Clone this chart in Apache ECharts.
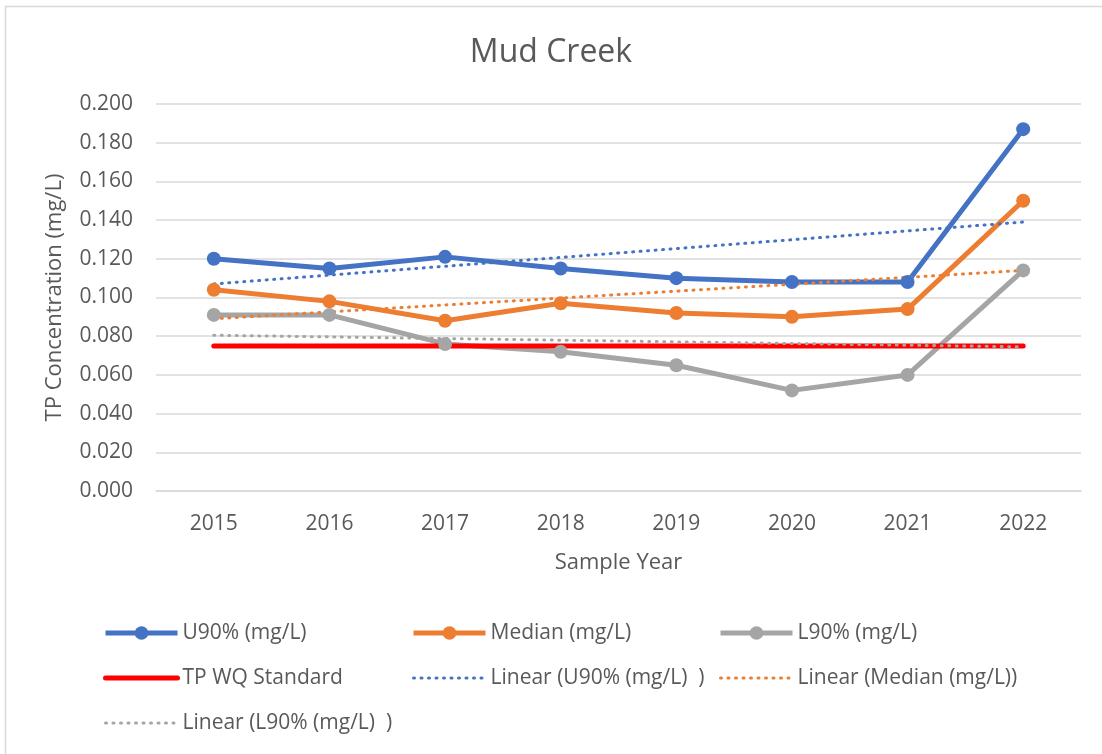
<!DOCTYPE html>
<html>
<head>
<meta charset="utf-8">
<script src="https://cdn.jsdelivr.net/npm/echarts@6/dist/echarts.min.js"></script>
<style>
html,body{margin:0;padding:0;background:#fff;}
#chart{width:1102px;height:754px;}
</style>
</head>
<body>
<div id="chart"></div>
<script>
const years = ['2015','2016','2017','2018','2019','2020','2021','2022'];
const u90 = [0.120, 0.115, 0.121, 0.115, 0.110, 0.108, 0.108, 0.187];
const median = [0.104, 0.098, 0.088, 0.097, 0.092, 0.090, 0.094, 0.150];
const l90 = [0.091, 0.091, 0.076, 0.072, 0.065, 0.052, 0.060, 0.114];
const wqStandard = 0.075;
// trendline endpoint values (first year, last year)
const trendU90 = [0.107, 0.139];
const trendMedian = [0.089, 0.114];
const trendL90 = [0.0805, 0.0745];
const yTicks = [0, 0.2, 0.02];

const names = {
  u90: 'U90% (mg/L)', med: 'Median (mg/L)', l90: 'L90% (mg/L)',
  wq: 'TP WQ Standard',
  tu: 'Linear (U90% (mg/L)  )', tm: 'Linear (Median (mg/L))', tl: 'Linear (L90% (mg/L)  )'
};
const C = {blue:'#4472C4', orange:'#ED7D31', gray:'#A5A5A5', red:'#FF0000'};
const FONT = '"Open Sans", sans-serif';
const first = years[0], last = years[years.length-1];

function mainSeries(name, data, color){
  return {name, type:'line', data, symbol:'circle', symbolSize:14,
    itemStyle:{color}, lineStyle:{color, width:5}, emphasis:{disabled:true}, animation:false};
}
function trendSeries(name, ends, color){
  return {name, type:'line', data:[[first, ends[0]],[last, ends[1]]], symbol:'none',
    itemStyle:{color}, lineStyle:{color, width:3, type:[1,6.5], cap:'round'}, emphasis:{disabled:true}, animation:false};
}
const legendText = {fontFamily:FONT, fontSize:21, color:'#595959', lineHeight:24};
const noMark = n => ({name:n, itemStyle:{opacity:0}});
function legend(data, left){
  return {data, left, top:621, padding:0, orient:'vertical', itemWidth:72, itemHeight:17, itemGap:21,
    textStyle:legendText, selectedMode:false, lineStyle:{width:'inherit'}};
}

const chart = echarts.init(document.getElementById('chart'), null, {renderer:'canvas'});
chart.setOption({
  backgroundColor:'#fff',
  animation:false,
  title:{text:'Mud Creek', left:'center', top:32,
    textStyle:{fontFamily:FONT, fontSize:32, fontWeight:'normal', color:'#595959'}},
  graphic:[{type:'rect', shape:{x:5.5, y:6.5, width:1100, height:760},
    style:{fill:'none', stroke:'#D9D9D9', lineWidth:1.5}, silent:true}],
  grid:{left:156, right:21, top:104, bottom:263, containLabel:false},
  legend:[
    legend([names.u90, noMark(names.wq), noMark(names.tl)], 103),
    legend([names.med, noMark(names.tu)], 411),
    legend([names.l90, noMark(names.tm)], 718)
  ],
  xAxis:{type:'category', data:years, boundaryGap:true,
    name:'Sample Year', nameLocation:'middle', nameGap:61,
    nameTextStyle:{fontFamily:FONT, fontSize:22, color:'#595959'},
    axisLine:{show:true, lineStyle:{color:'#D9D9D9', width:1.5}},
    axisTick:{show:false},
    axisLabel:{fontFamily:FONT, fontSize:21, color:'#595959', margin:23}},
  yAxis:{type:'value', min:yTicks[0], max:yTicks[1], interval:yTicks[2],
    name:'TP Concentration (mg/L)', nameLocation:'middle', nameGap:90,
    nameTextStyle:{fontFamily:FONT, fontSize:22, color:'#595959'},
    axisLine:{show:false}, axisTick:{show:false},
    splitLine:{lineStyle:{color:'#D9D9D9', width:1.5}},
    axisLabel:{fontFamily:FONT, fontSize:21, color:'#595959', margin:23,
      formatter:v=>v.toFixed(3)}},
  series:[
    mainSeries(names.u90, u90, C.blue),
    mainSeries(names.med, median, C.orange),
    mainSeries(names.l90, l90, C.gray),
    {name:names.wq, type:'line', data:years.map(()=>wqStandard), symbol:'none',
      itemStyle:{color:C.red}, lineStyle:{color:C.red, width:5, cap:'round'}, emphasis:{disabled:true}},
    trendSeries(names.tu, trendU90, C.blue),
    trendSeries(names.tm, trendMedian, C.orange),
    trendSeries(names.tl, trendL90, C.gray)
  ]
});
</script>
</body>
</html>
